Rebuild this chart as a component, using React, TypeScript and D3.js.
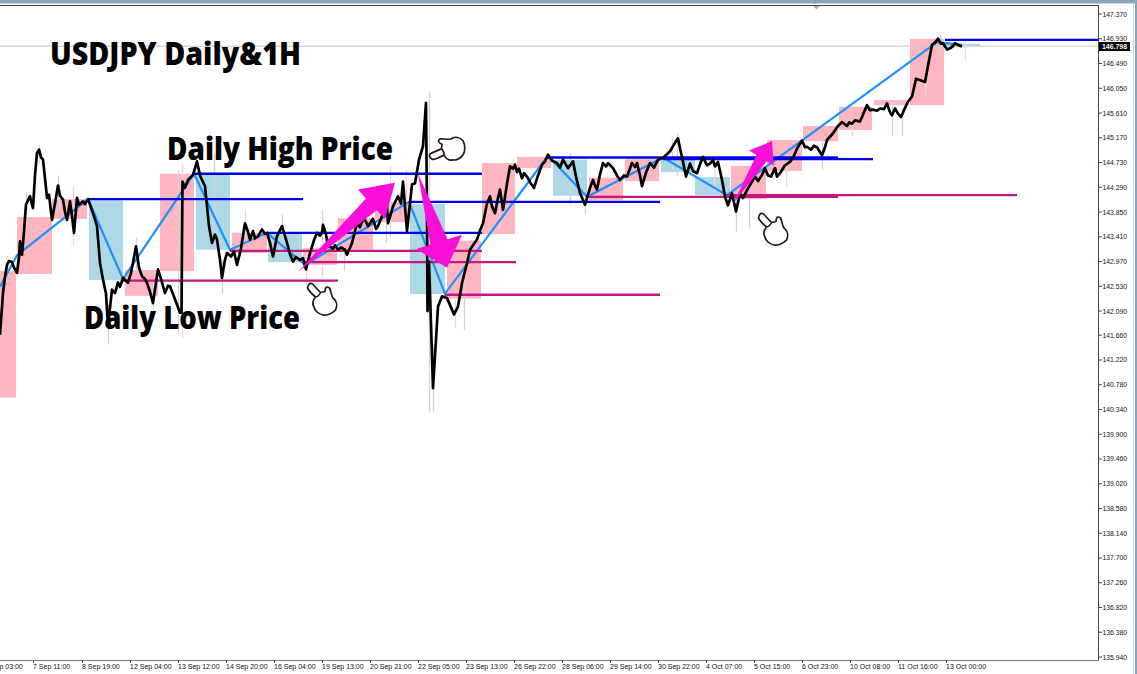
import React from "react";
import * as d3 from "d3";

const W = 1137, H = 674;
const priceTicks = [147.37,146.93,146.49,146.05,145.61,145.17,144.73,144.29,143.85,143.41,142.97,142.53,142.09,141.66,141.22,140.78,140.34,139.9,139.46,139.02,138.58,138.14,137.7,137.26,136.82,136.38,135.94];
const timeSlots = [-15,33,82,130,178,226,274,322,370,418,466,514,562,610,658,706,754,802,850,898,946];
const timeLabels = ["6 Sep 03:00","7 Sep 11:00","8 Sep 19:00","12 Sep 04:00","13 Sep 12:00","14 Sep 20:00","16 Sep 04:00","19 Sep 13:00","20 Sep 21:00","22 Sep 05:00","23 Sep 13:00","26 Sep 22:00","28 Sep 06:00","29 Sep 14:00","30 Sep 22:00","4 Oct 07:00","5 Oct 15:00","6 Oct 23:00","10 Oct 08:00","11 Oct 16:00","13 Oct 00:00"];
const lastPrice = 146.798;

// [slot, price] hourly close trace
const closeTrace: [number, number][] = [
[0,141.67],[3,142.41],[5,142.7],[7,142.91],[9,142.98],[12,142.96],[14,142.86],[17,142.77],[19,143.05],[20,143.33],[22,143.09],[24,143.5],[26,143.98],[28,144.06],[30,144.13],[32,143.98],[33,143.92],[35,144.5],[37,144.9],[39,144.96],[41,144.82],[43,144.78],[45,144.45],[47,144.1],[49,144.16],[52,143.71],[55,144.0],[58,144.32],[60,144.14],[63,144.07],[65,143.85],[67,143.71],[70,144.04],[72,143.78],[74,143.48],[77,144.1],[79,143.98],[83,144.04],[85,143.99],[88,144.08],[93,143.83],[97,143.6],[100,142.94],[103,142.65],[106,142.4],[108,141.82],[112,142.47],[115,142.41],[118,142.6],[120,142.52],[123,142.68],[128,142.59],[131,142.77],[133,142.95],[136,143.24],[139,142.86],[142,142.71],[145,142.66],[147,142.59],[150,142.43],[153,142.23],[156,142.6],[158,142.83],[161,142.66],[165,142.41],[168,142.54],[170,142.53],[175,142.3],[180,142.06],[181.5,142.06],[182.5,144.39],[185,144.28],[188,144.42],[193,144.51],[197,144.75],[200,144.5],[202,144.42],[205,144.31],[209,143.6],[212,143.3],[215,143.45],[217,143.36],[220,143.0],[222,142.68],[225,143.0],[227,143.12],[231,143.06],[234,143.15],[237,142.91],[241,143.2],[245,143.65],[248,143.5],[250,143.36],[253,143.51],[255,143.38],[258,143.42],[262,143.54],[265,143.46],[267,143.48],[270,143.3],[273,143.06],[277,143.42],[282,143.6],[285,143.42],[287,143.3],[290,143.1],[293,142.97],[296,143.05],[300,143.0],[303,143.03],[306,142.83],[310,143.12],[314,143.35],[317,143.48],[320,143.43],[322,143.48],[323,143.62],[326,143.45],[328,143.24],
[330,143.24],[333,143.2],[335,143.26],[338,143.18],[341,143.22],[345,143.18],[347,143.09],[352,143.3],[357,143.65],[360,143.58],[363,143.72],[365,143.71],[368,143.6],[370,143.65],[373,143.73],[376,143.55],[378,143.6],[383,143.82],[387,143.95],[388,143.65],[393,143.95],[398,144.13],[401,144.0],[403,144.39],[407,143.51],[412,144.34],[415,144.36],[419,144.78],[423,145.02],[426,145.79],[427,143.83],[427.5,142.09],[429,142.97],[433,140.72],[438,142.17],[442,142.35],[447,142.32],[450,142.2],[454,142.03],[458,142.17],[462,142.59],[465,142.8],[467,142.94],[470,143.18],[473,143.26],[477,143.36],[480,143.52],[483,143.65],[487,144.0],[490,144.13],[492,143.95],[495,143.83],[498,144.1],[500,144.25],[503,143.89],[507,144.35],[510,144.66],[513,144.62],[515,144.69],[517,144.56],[519,144.62],[522,144.45],[524,144.54],[527,144.48],[530,144.38],[534,144.28],[538,144.5],[542,144.69],[545,144.75],[548,144.87],[552,144.76],[557,144.72],[560,144.64],[563,144.78],[568,144.63],[573,144.75],[576,144.48],[580,144.19],[585,143.98],[590,144.28],[593,144.42],[595,144.32],[597,144.25],[600,144.52],[603,144.72],[606,144.66],[608,144.72],[613,144.63],[617,144.5],[620,144.42],[624,144.5],[627,144.48],[632,144.72],[635,144.65],[637,144.72],[640,144.5],[642,144.31],[646,144.55],[650,144.72],[654,144.64],[658,144.78],[663,144.81],[670,144.93],[675,145.08],[678,145.16],
[680,144.98],[682,144.83],[686,144.48],[690,144.71],[693,144.58],[697,144.54],[700,144.7],[703,144.83],[707,144.68],[710,144.71],[713,144.77],[715,144.66],[718,144.74],[722,144.42],[725,144.12],[728,143.97],[732,144.18],[736,143.86],[740,144.18],[743,144.1],[747,144.24],[751,144.36],[755,144.48],[758,144.4],[762,144.51],[765,144.63],[768,144.5],[771,144.48],[775,144.63],[777,144.48],[780,144.54],[785,144.68],[790,144.74],[794,144.85],[797,144.98],[802,145.12],[805,145.0],[807,145.01],[811,144.96],[814,145.03],[817,145.0],[822,144.86],[825,145.0],[827,145.13],[833,145.25],[838,145.38],[842,145.45],[847,145.38],[849,145.44],[852,145.42],[855,145.48],[860,145.46],[862,145.54],[867,145.75],[870,145.66],[873,145.67],[877,145.65],[880,145.69],[884,145.68],[887,145.78],[890,145.62],[892,145.57],[895,145.69],[898,145.6],[901,145.54],[905,145.7],[908,145.81],[912,145.9],[916,146.22],[919,146.2],[925,146.16],[928,146.45],[932,146.82],[935,146.86],[938,146.93],[941,146.84],[943,146.85],[947,146.74],[950,146.76],[953,146.8],[955,146.85],[958,146.82],[962,146.79]];

// [slot, high, low]
const wicks: [number, number, number][] = [[26,144.2,143.8],[39,145.05,144.7],[58,144.5,143.9],[73,144.3,143.23],[108,142.2,141.5],[136,143.4,142.8],[153,142.6,142.0],[178,144.6,141.7],[182,144.7,141.6],[214,144.9,143.2],[222,143.0,142.4],[245,143.9,143.4],[282,143.8,143.1],[306,143.1,142.55],[322,143.9,142.7],[344,143.2,142.8],[390,144.67,143.4],[386,144.1,143.3],[406,144.6,143.5],[429,145.98,140.3],[433,141.5,140.3],[455,142.3,141.8],[464,142.6,141.75],[499,144.2,143.5],[570,144.9,144.0],[585,144.0,143.8],[672,145.2,144.6],[677,145.25,144.5],[714,144.8,144.2],[736,144.2,143.5],[749,144.2,143.55],[786,144.9,144.3],[822,145.1,144.6],[852,145.5,145.2],[892,145.8,145.2],[902,145.7,145.2],[925,146.3,145.9],[940,147.0,146.6],[965,146.9,146.55]];

// daily bodies: start slot, end slot, open, close
const dayStart = [0,17,52,89,125,160,196,232,268,303,338,375,410,447,482,517,553,589,625,661,695,731,767,803,839,874,910,945];
const dayEnd = [16,52,87,123,158,194,230,267,302,337,373,409,445,481,515,551,587,623,659,695,730,766,802,838,872,909,944,980];
const dayOpen = [140.55,142.75,143.73,144.06,142.36,142.8,144.53,143.12,143.48,142.91,143.18,143.67,143.99,142.31,143.46,144.63,144.78,144.06,144.4,144.78,144.47,144.08,144.58,145.11,145.31,145.75,145.75,146.84];
const dayClose = [142.8,143.76,144.08,142.64,142.82,144.53,143.18,143.48,142.96,143.21,143.74,144.03,142.39,143.34,144.72,144.83,144.14,144.46,144.79,144.56,144.15,144.67,145.13,145.38,145.72,145.84,146.93,146.8];

const zigzag: [number, number][] = [[0,142.52],[17,143.08],[88,144.08],[123,142.66],[194,144.53],[230,143.18],[267,143.48],[305,142.91],[409,144.03],[445,142.4],[548,144.85],[587,144.12],[663,144.82],[727,144.15],[937,146.87],[962,146.82]];

// [from, to, price]
const highLines: [number, number, number][] = [[88,303,144.08],[194,482,144.53],[267,482,143.48],[409,660,144.03],[548,838,144.82],[663,873,144.79],[945,1098,146.91]];
const lowLines: [number, number, number][] = [[123,338,142.63],[230,482,143.16],[303,516,142.96],[445,660,142.38],[587,838,144.12],[727,1017,144.15]];

// tail slot, tail price, tip slot, tip price
const arrows: [number, number, number, number][] = [[298,142.79,395,144.37],[418,144.53,447,142.86],[733,143.99,772,145.11]];
const arrowHead = [[32,40,16],[27,48,18],[20,29,12]];

const labels = [
  { text: "USDJPY Daily&1H", x: 50, y: 65, len: 251 },
  { text: "Daily High Price", x: 167, y: 160, len: 226 },
  { text: "Daily Low Price", x: 84, y: 329, len: 216 },
];
const hands = [[322,300,0],[449,150,-70],[773,230,0]];

const x = d3.scaleLinear().domain([0, 1098]).range([0, 1098]);
const y = d3.scaleLinear().domain([135.94, 147.37]).range([657, 14]);
const pink = "#ffb6c1", blue = "#add8e6";

function arrowPath(t: number[], h: number[]) {
  const x0 = x(t[0]), y0 = y(t[1]), x1 = x(t[2]), y1 = y(t[3]);
  const L = Math.hypot(x1 - x0, y1 - y0), ux = (x1 - x0) / L, uy = (y1 - y0) / L, nx = -uy, ny = ux;
  const bx = x1 - ux * h[0], by = y1 - uy * h[0];
  const p = (a: number, b: number) => `${a.toFixed(1)},${b.toFixed(1)}`;
  return "M" + [p(x0, y0), p(bx + nx * h[2] / 2, by + ny * h[2] / 2), p(bx + nx * h[1] / 2, by + ny * h[1] / 2), p(x1, y1), p(bx - nx * h[1] / 2, by - ny * h[1] / 2), p(bx - nx * h[2] / 2, by - ny * h[2] / 2)].join("L") + "Z";
}

const handD = "M-13.5,-15 C-12.5,-17 -10.5,-17 -9,-15.5 L-1.5,-7.5 L3,-8.5 C3,-13 5,-14 7.5,-12 C9,-9 9,-5 11,-2 C15,1 15.5,6 13.5,10 C10,14 4,15.5 1,15 C-4,14 -7.5,10 -8,7 C-10,4 -9,0 -6.5,-3 C-10,-6 -14,-10 -14.5,-12.5 Z M-6.5,-3 C-4,-3 -3,-5 -1.5,-7";

export default function App() {
  const line = d3.line<[number, number]>().x(d => x(d[0])).y(d => y(d[1]));
  return (
    <svg width={W} height={H} viewBox={`0 0 ${W} ${H}`} style={{ position: "absolute", left: 0, top: 0, background: "#fff" }}>
      <rect x={0} y={0} width={W} height={3} fill="#8ba3bd" />
      <rect x={0} y={3} width={W} height={1} fill="#c9d3de" />
      <rect x={1133} y={3} width={1} height={H} fill="#c5d0db" />
      <rect x={1135} y={3} width={2} height={H} fill="#8ba3bd" />
      {dayStart.map((s, i) => (
        <rect key={i} x={x(s)} width={x(dayEnd[i]) - x(s)} y={y(Math.max(dayOpen[i], dayClose[i]))}
          height={Math.abs(y(dayOpen[i]) - y(dayClose[i]))} fill={dayClose[i] >= dayOpen[i] ? pink : blue} />
      ))}
      <line x1={0} x2={1098} y1={y(lastPrice)} y2={y(lastPrice)} stroke="#c8c8c8" strokeWidth={1} />
      {wicks.map((w, i) => <line key={i} x1={x(w[0])+.5} x2={x(w[0])+.5} y1={y(w[1])} y2={y(w[2])} stroke={i%5===3?"#ffd0d8":i%5===1?"#c8e4ec":"#d4d4d4"} strokeWidth={1.3} />)}
      <path d={line(zigzag) ?? ""} fill="none" stroke="#1e90ff" strokeWidth={2.2} />
      {highLines.map((l, i) => <line key={i} x1={x(l[0])} x2={x(l[1])} y1={y(l[2])} y2={y(l[2])} stroke="#0000ee" strokeWidth={2.4} />)}
      {lowLines.map((l, i) => <line key={i} x1={x(l[0])} x2={x(l[1])} y1={y(l[2])} y2={y(l[2])} stroke="#c71585" strokeWidth={2.4} />)}
      <path d={line(closeTrace) ?? ""} fill="none" stroke="#000" strokeWidth={2.7} strokeLinejoin="round" />
      {arrows.map((a, i) => <path key={i} d={arrowPath(a, arrowHead[i])} fill="#fa0fd9" />)}
      <path d="M813,6 L820,6 L816.5,9.5 Z" fill="#b5b5b5" />
      <rect x={0} y={5} width={1098} height={1} fill="#444" />
      <rect x={1098} y={5} width={1} height={656} fill="#444" />
      <rect x={0} y={660} width={1099} height={1} fill="#777" />
      {priceTicks.map(p => (
        <g key={p}>
          <line x1={1099} x2={1102} y1={y(p)} y2={y(p)} stroke="#444" />
          <text x={1102.5} y={y(p) + 2.5} fontFamily="'Liberation Sans'" fontSize={7.4} fill="#111" textLength={24.5} lengthAdjust="spacingAndGlyphs">{p.toFixed(3)}</text>
        </g>
      ))}
      <rect x={1099} y={42} width={31} height={9} fill="#000" />
      <text x={1102} y={y(lastPrice) + 2.5} fontFamily="'Liberation Sans'" fontSize={7.4} fontWeight={700} fill="#fff" textLength={25} lengthAdjust="spacingAndGlyphs">{lastPrice.toFixed(3)}</text>
      {timeSlots.map((s, i) => (
        <g key={i}>
          <line x1={x(s)+.5} x2={x(s)+.5} y1={660} y2={663} stroke="#555" />
          <text x={x(s)} y={668.5} fontFamily="'Liberation Sans'" fontSize={7} fill="#111">{timeLabels[i]}</text>
        </g>
      ))}
      {labels.map(l => (
        <text key={l.text} x={l.x} y={l.y} fontFamily="'Open Sans'" fontWeight={800} fontSize={32} fill="#000"
          textLength={l.len} lengthAdjust="spacingAndGlyphs">{l.text}</text>
      ))}
      {hands.map((h, i) => <path key={i} d={handD} transform={`translate(${h[0]},${h[1]}) rotate(${h[2]})`} fill="#fff" stroke="#231815" strokeWidth={1.7} strokeLinejoin="round" />)}
    </svg>
  );
}
